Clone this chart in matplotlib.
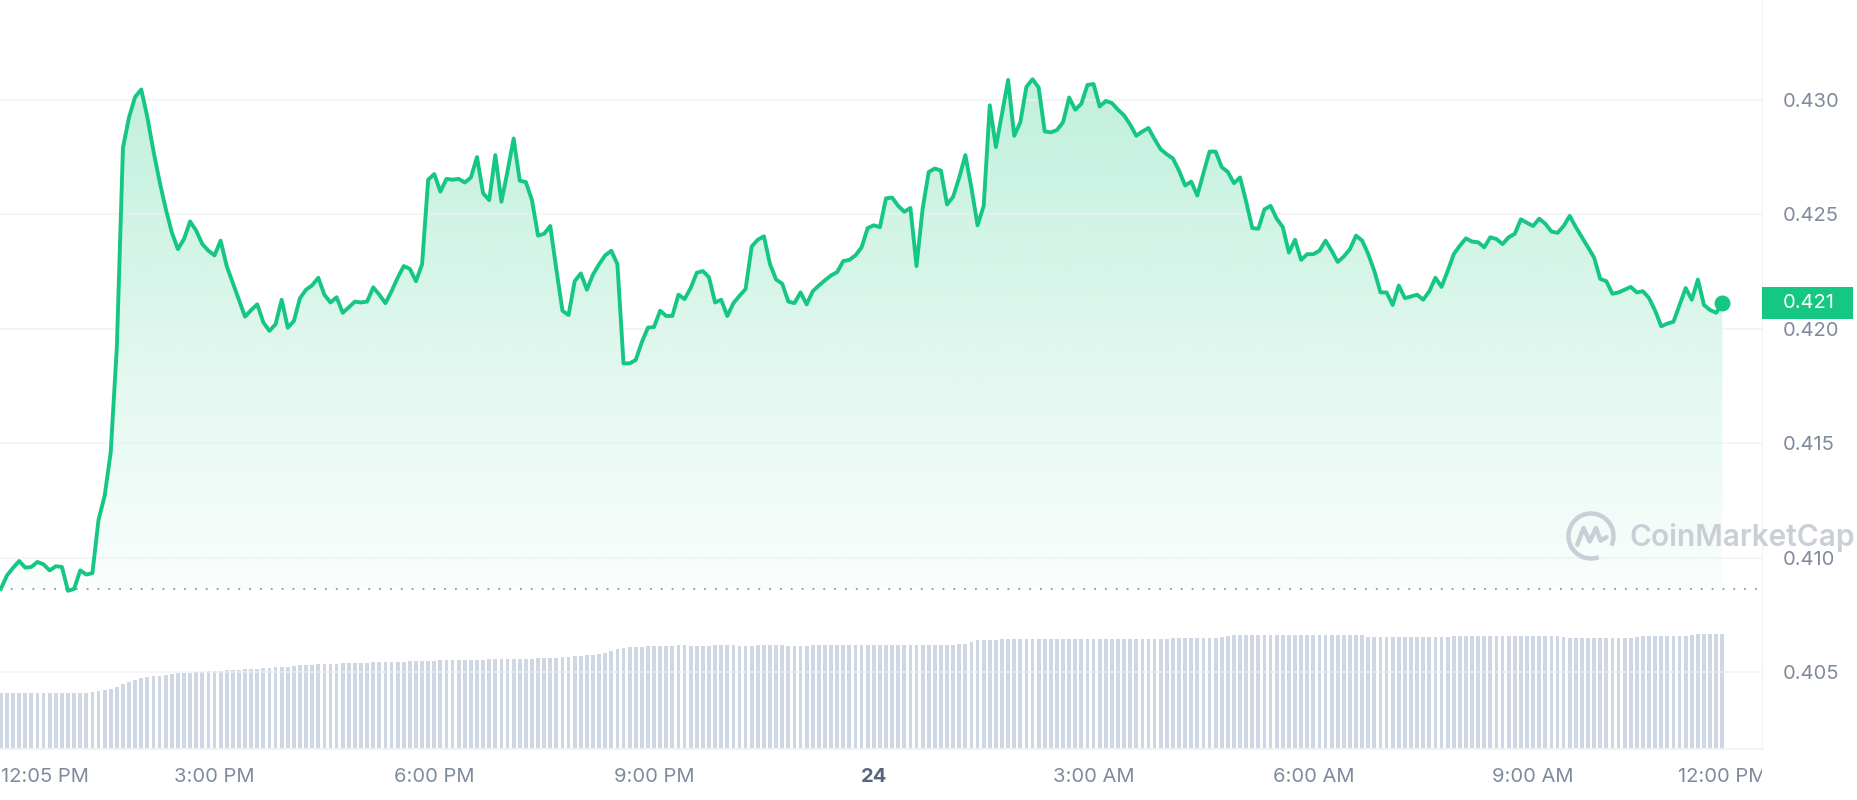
import numpy as np
import matplotlib
matplotlib.use("Agg")
import matplotlib.pyplot as plt
from matplotlib import transforms
from matplotlib.colors import to_rgb
from matplotlib.patches import Rectangle, Arc
from matplotlib.transforms import Bbox, TransformedBbox

plt.rcParams["font.family"] = ["Inter", "DejaVu Sans"]

# 5-minute prices, 12:05 PM -> ~11:35 AM next day
price = [
    0.40863, 0.40922, 0.40955, 0.40985, 0.40956, 0.40959, 0.40981, 0.40970, 0.40944, 0.40962,
    0.40959, 0.40855, 0.40863, 0.40944, 0.40926, 0.40932, 0.41165, 0.41269, 0.41461, 0.41919,
    0.42790, 0.42923, 0.43012, 0.43044, 0.42923, 0.42775, 0.42642, 0.42524, 0.42421, 0.42347,
    0.42391, 0.42468, 0.42428, 0.42369, 0.42340, 0.42320, 0.42384, 0.42273, 0.42199, 0.42126,
    0.42052, 0.42081, 0.42106, 0.42027, 0.41990, 0.42019, 0.42126, 0.42004, 0.42033, 0.42133,
    0.42170, 0.42189, 0.42222, 0.42148, 0.42114, 0.42137, 0.42069, 0.42093, 0.42118, 0.42114,
    0.42118, 0.42180, 0.42148, 0.42111, 0.42163, 0.42222, 0.42273, 0.42261, 0.42207, 0.42281,
    0.42650, 0.42675, 0.42598, 0.42654, 0.42650, 0.42654, 0.42638, 0.42660, 0.42749, 0.42591,
    0.42561, 0.42758, 0.42554, 0.42687, 0.42830, 0.42646, 0.42640, 0.42561, 0.42406, 0.42414,
    0.42448, 0.42258, 0.42078, 0.42059, 0.42207, 0.42241, 0.42170, 0.42236, 0.42281, 0.42320,
    0.42340, 0.42281, 0.41848, 0.41848, 0.41863, 0.41941, 0.42004, 0.42007, 0.42078, 0.42055,
    0.42055, 0.42148, 0.42129, 0.42177, 0.42244, 0.42251, 0.42224, 0.42114, 0.42126, 0.42055,
    0.42111, 0.42143, 0.42173, 0.42359, 0.42388, 0.42403, 0.42281, 0.42214, 0.42196, 0.42118,
    0.42111, 0.42158, 0.42106, 0.42163, 0.42188, 0.42211, 0.42232, 0.42247, 0.42295, 0.42300,
    0.42320, 0.42355, 0.42439, 0.42451, 0.42443, 0.42569, 0.42572, 0.42536, 0.42510, 0.42527,
    0.42273, 0.42524, 0.42684, 0.42699, 0.42690, 0.42542, 0.42576, 0.42660, 0.42758, 0.42613,
    0.42451, 0.42536, 0.42975, 0.42793, 0.42938, 0.43086, 0.42842, 0.42901, 0.43056, 0.43089,
    0.43053, 0.42861, 0.42857, 0.42867, 0.42901, 0.43009, 0.42956, 0.42982, 0.43064, 0.43068,
    0.42970, 0.42994, 0.42985, 0.42956, 0.42931, 0.42891, 0.42842, 0.42861, 0.42876, 0.42827,
    0.42783, 0.42761, 0.42743, 0.42690, 0.42625, 0.42642, 0.42581, 0.42679, 0.42773, 0.42773,
    0.42705, 0.42684, 0.42635, 0.42660, 0.42554, 0.42439, 0.42436, 0.42521, 0.42536, 0.42480,
    0.42443, 0.42332, 0.42388, 0.42300, 0.42325, 0.42325, 0.42340, 0.42384, 0.42340, 0.42291,
    0.42315, 0.42347, 0.42406, 0.42384, 0.42325, 0.42251, 0.42158, 0.42158, 0.42103, 0.42188,
    0.42133, 0.42140, 0.42148, 0.42126, 0.42163, 0.42222, 0.42182, 0.42251, 0.42325, 0.42362,
    0.42394, 0.42380, 0.42377, 0.42355, 0.42399, 0.42391, 0.42369, 0.42399, 0.42414, 0.42477,
    0.42462, 0.42448, 0.42480, 0.42458, 0.42424, 0.42418, 0.42448, 0.42492, 0.42443, 0.42399,
    0.42355, 0.42310, 0.42217, 0.42207, 0.42152, 0.42158, 0.42170, 0.42182, 0.42158, 0.42163,
    0.42133, 0.42078, 0.42010, 0.42022, 0.42030, 0.42103, 0.42177, 0.42126, 0.42214, 0.42103,
    0.42081, 0.42069, 0.42111,
]

# 24h rolling volume (M USD) per 5-minute bar
volume = [
    270, 270, 270, 270, 270, 270, 270, 270, 270, 270, 270, 270, 270, 270, 270,
    275, 280, 285, 292, 300, 315, 325, 335, 345, 350, 352, 355, 360, 365, 367, 370, 370, 372, 375,
    377, 380, 380, 382,
    385, 385, 387, 390, 390, 392,
    395, 397, 400, 400, 402,
    405, 405, 407, 410, 410,
    412, 412, 415, 415, 415, 417, 417,
    420, 420, 420, 422, 422, 422, 425, 425, 425, 427,
    427, 430, 430, 430, 430, 432, 432, 432, 432, 435, 435, 435, 435, 435, 437,
    437, 437, 440, 440, 442, 442, 445, 447, 450, 452, 455, 455,
    460, 465, 475, 485, 490,
    495, 497, 497, 500, 500, 500, 500, 500, 502, 502, 500, 500, 500, 500, 502, 502, 502, 502, 500, 500,
    500, 502, 502, 502, 502, 502, 500, 500, 500, 500,
    502, 502, 502, 502, 505, 505, 505, 502, 502, 502,
    502, 502, 502, 505, 505, 505, 505, 505, 505, 505,
    505, 505, 505, 505, 507, 507,
    520, 528, 530, 530, 530, 532, 532, 532, 532, 532,
    532, 532, 532, 532, 532, 535, 535, 535, 535, 535,
    535, 535, 535, 535, 535, 535, 535, 535, 535, 535,
    535, 535, 535, 537, 537, 537, 537, 537, 537, 540,
    540,
    545, 550, 552, 552, 552, 552, 552, 552, 552, 552, 552, 552, 552,
    553, 553, 553, 553, 553, 553, 553, 553, 553, 553, 553,
    545, 542, 542, 542, 542, 542, 542, 542, 542, 542, 542, 542, 542, 545, 547,
    550, 550, 550, 550, 550, 548, 548, 550, 550, 550, 550, 550, 550, 550, 550, 550, 550,
    545, 540, 540, 540, 540, 540, 540, 540, 540, 540, 540, 540, 542,
    547, 548, 548, 548, 548, 548, 548, 550,
    555, 557, 557, 557, 557, 557,
]

start_time = "12:05"
step_min = 5
tick_times = ["15:00", "18:00", "21:00", "00:00", "03:00", "06:00", "09:00"]
tick_labels = ["3:00 PM", "6:00 PM", "9:00 PM", "24", "3:00 AM", "6:00 AM", "9:00 AM"]
first_label = "12:05 PM"
last_time, last_label = "12:00", "12:00 PM"
y_ticks = [0.405, 0.410, 0.415, 0.420, 0.425, 0.430]

GREEN = "#16c784"
GREY = "#808a9d"
VOL_GREY = "#cfd6e4"
LINE_GREY = "#eff1f4"
Y_LIM = (0.40164, 0.43435)
X_LIM = (-0.14, 288.5)


def to_index(hhmm):
    h, m = map(int, hhmm.split(":"))
    sh, sm = map(int, start_time.split(":"))
    return ((h * 60 + m) - (sh * 60 + sm)) % 1440 / step_min


x = np.arange(len(price))
open_price = price[0]

fig = plt.figure(figsize=(18.58, 8.0), dpi=100)
fig.patch.set_facecolor("white")
rect = [0, 51 / 800, 1762 / 1858, 749 / 800]

# volume in the back
ax_v = fig.add_axes(rect)
ax_v.bar(x, volume, width=0.62, color=VOL_GREY, linewidth=0)
ax_v.set_xlim(*X_LIM)
ax_v.set_ylim(0, 749 * 4.85)
ax_v.axis("off")
ax_v.set_zorder(0)

ax = fig.add_axes(rect)
ax.set_zorder(1)
ax.patch.set_visible(False)

# gradient fill under the line
poly = ax.fill_between(x, price, open_price, facecolor="none", edgecolor="none")
grad = np.zeros((256, 1, 4))
grad[..., :3] = to_rgb(GREEN)
grad[:, 0, 3] = np.linspace(0.27, 0.02, 256)
img = ax.imshow(grad, extent=[x[0], x[-1], open_price, max(price)],
                aspect="auto", origin="upper", zorder=1, interpolation="bilinear")
img.set_clip_path(poly.get_paths()[0], transform=ax.transData)

ax.axhline(open_price, color="#8f98a6", lw=1.3, ls=(0, (1, 5)), zorder=2)
ax.plot(x, price, color=GREEN, lw=2.8, zorder=3, solid_joinstyle="round")
ax.plot(x[-1], price[-1], "o", ms=10.5, color=GREEN, zorder=4)

ax.set_xlim(*X_LIM)
ax.set_ylim(*Y_LIM)

# y axis on the right
ax.yaxis.tick_right()
ax.set_yticks(y_ticks, [f"{v:.3f}" for v in y_ticks])
ax.tick_params(axis="y", length=0, pad=15, labelsize=14.5, labelcolor=GREY)
ax.grid(axis="y", color="#eef0f3", lw=1.2, alpha=0.8, zorder=1.5)
ax.set_xticks([])
for side in ["top", "left"]:
    ax.spines[side].set_visible(False)
ax.spines["right"].set_color(LINE_GREY)
ax.spines["bottom"].set_color(LINE_GREY)
ax.spines["bottom"].set_linewidth(1.2)

# x labels
lab_tr = transforms.blended_transform_factory(ax.transData, ax.transAxes)
lab_y = -0.0374
ax.text(0, lab_y, first_label, transform=lab_tr, ha="left", va="center",
        fontsize=14.5, color=GREY)
for t, lab in zip(tick_times, tick_labels):
    bold = lab == "24"
    ax.text(to_index(t), lab_y, lab, transform=lab_tr, ha="center", va="center",
            fontsize=14.5, color="#58667e" if bold else GREY,
            fontweight="bold" if bold else "normal")
last_txt = ax.text(to_index(last_time), lab_y, last_label,
                   transform=transforms.offset_copy(lab_tr, fig=fig, x=14, units="dots"),
                   ha="right", va="center", fontsize=14.5, color=GREY)
last_txt.set_clip_path(None)
last_txt.set_clip_box(TransformedBbox(Bbox([[0, -1], [1, 1]]), ax.transAxes))
last_txt.set_clip_on(True)

# current price badge
px_per_unit = ax.bbox.height / (Y_LIM[1] - Y_LIM[0])
half_h = 16 / px_per_unit
badge_tr = transforms.blended_transform_factory(fig.transFigure, ax.transData)
fig.patches.append(Rectangle((1762 / 1858, price[-1] - half_h), 91 / 1858, 2 * half_h,
                             transform=badge_tr, facecolor=GREEN, edgecolor="none",
                             zorder=5))
fig.text(1783 / 1858, price[-1], f"{price[-1]:.3f}", transform=badge_tr,
         ha="left", va="center", fontsize=14.5, color="white", zorder=6)

# watermark
WM = "#c9ced7"
fig.text(1630 / 1858, 1 - 537 / 800, "CoinMarketCap", fontsize=21.5,
         fontweight="semibold", color=WM, ha="left", va="center", zorder=4)
logo = fig.add_axes([1566 / 1858, (800 - 561) / 800, 50 / 1858, 50 / 800])
logo.set_zorder(2)
logo.set_xlim(-1, 1)
logo.set_ylim(-1, 1)
logo.axis("off")
logo.add_patch(Arc((0, 0), 1.8, 1.8, theta1=-25, theta2=290, color=WM, lw=3.2))
logo.plot([-0.55, -0.3, -0.05, 0.2, 0.38, 0.62], [-0.35, 0.32, -0.22, 0.32, -0.18, -0.05],
          color=WM, lw=3.2, solid_joinstyle="round", solid_capstyle="round")

fig.savefig("out.png", dpi=100)
